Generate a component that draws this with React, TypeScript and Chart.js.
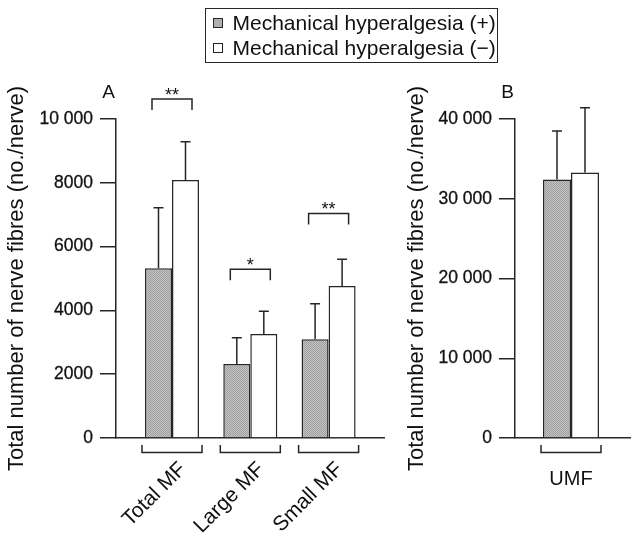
import React, { useEffect, useRef } from 'react';
import { Chart, registerables } from 'chart.js';

Chart.register(...registerables);

const FONT = '"Liberation Sans", Arial, Helvetica, sans-serif';
const INK = '#111111';
const LINE = '#262626';

const seriesNames = ['Mechanical hyperalgesia (+)', 'Mechanical hyperalgesia (\u2212)'];
const yTitle = 'Total number of nerve fibres (no./nerve)';

// Panel A
const categoriesA = ['Total MF', 'Large MF', 'Small MF'];
const plusMeansA = [5320, 2320, 3095];
const plusSdA = [1900, 825, 1115];
const minusMeansA = [8085, 3260, 4765];
const minusSdA = [1200, 710, 835];
const sigLevelsA = [10630, 5290, 7040];
const sigMarksA = ['**', '*', '**'];
const yTicksA = [0, 2000, 4000, 6000, 8000, 10000];

// Panel B
const categoriesB = ['UMF'];
const plusMeansB = [32400];
const plusSdB = [6100];
const minusMeansB = [33300];
const minusSdB = [8100];
const yTicksB = [0, 10000, 20000, 30000, 40000];

function fmtTick(v: number): string {
  const s = String(Math.round(v));
  return v >= 10000 ? s.replace(/\B(?=(\d{3})+(?!\d))/g, ' ') : s;
}

function makeStipple(): CanvasPattern | string {
  const c = document.createElement('canvas');
  c.width = 2;
  c.height = 2;
  const g = c.getContext('2d');
  if (!g) return '#b0b0b0';
  g.fillStyle = '#c2c2c2';
  g.fillRect(0, 0, 2, 2);
  g.fillStyle = '#a0a0a0';
  g.fillRect(0, 0, 1, 1);
  g.fillRect(1, 1, 1, 1);
  return g.createPattern(c, 'repeat') || '#b0b0b0';
}

interface PanelSpec {
  letter: string;
  cats: string[];
  plus: number[];
  plusSd: number[];
  minus: number[];
  minusSd: number[];
  yTicks: number[];
  xMin: number;
  xMax: number;
  catPct: number;
  padRight: number;
  axisWidth: number;
  rotateLabels: boolean;
  sigLevels?: number[];
  sigMarks?: string[];
}

function buildChart(canvas: HTMLCanvasElement, p: PanelSpec): Chart {
  const stipple = makeStipple();
  const decor = {
    id: 'decor',
    afterDatasetsDraw(chart: any) {
      const { ctx, chartArea, scales } = chart;
      const xs = scales.x;
      const ys = scales.y;
      ctx.save();
      ctx.strokeStyle = LINE;
      ctx.lineWidth = 1.5;
      ctx.lineCap = 'butt';
      // error bars (upper only)
      const sds = [p.plusSd, p.minusSd];
      const means = [p.plus, p.minus];
      for (let d = 0; d < 2; d++) {
        const meta = chart.getDatasetMeta(d);
        meta.data.forEach((el: any, j: number) => {
          const yTop = ys.getPixelForValue(means[d][j] + sds[d][j]);
          ctx.beginPath();
          ctx.moveTo(el.x, el.y);
          ctx.lineTo(el.x, yTop);
          ctx.moveTo(el.x - 5, yTop);
          ctx.lineTo(el.x + 5, yTop);
          ctx.stroke();
        });
      }
      // significance brackets
      if (p.sigLevels && p.sigMarks) {
        ctx.fillStyle = INK;
        ctx.font = `18px ${FONT}`;
        ctx.textAlign = 'center';
        ctx.textBaseline = 'alphabetic';
        p.sigLevels.forEach((lv, j) => {
          const cx = xs.getPixelForValue(j);
          const y = ys.getPixelForValue(lv);
          ctx.beginPath();
          ctx.moveTo(cx - 20, y + 11);
          ctx.lineTo(cx - 20, y);
          ctx.lineTo(cx + 20, y);
          ctx.lineTo(cx + 20, y + 11);
          ctx.stroke();
          ctx.fillText(p.sigMarks![j], cx, y + 2);
        });
      }
      // category brackets and labels
      const by = chartArea.bottom + 14.5;
      p.cats.forEach((c, j) => {
        const cx = xs.getPixelForValue(j);
        ctx.beginPath();
        ctx.moveTo(cx - 30, by - 7.5);
        ctx.lineTo(cx - 30, by);
        ctx.lineTo(cx + 30, by);
        ctx.lineTo(cx + 30, by - 7.5);
        ctx.stroke();
        ctx.fillStyle = INK;
        if (p.rotateLabels) {
          ctx.font = `21px ${FONT}`;
          ctx.save();
          ctx.translate(cx + 11, chartArea.bottom + 28);
          ctx.rotate(-Math.PI / 4);
          ctx.textAlign = 'right';
          ctx.textBaseline = 'middle';
          ctx.fillText(c, 0, 0);
          ctx.restore();
        } else {
          ctx.font = `20px ${FONT}`;
          ctx.textAlign = 'center';
          ctx.textBaseline = 'middle';
          ctx.fillText(c, cx, chartArea.bottom + 41);
        }
      });
      // panel letter
      ctx.fillStyle = INK;
      ctx.font = `19px ${FONT}`;
      ctx.textAlign = 'center';
      ctx.textBaseline = 'middle';
      ctx.fillText(p.letter, chartArea.left - 7.5, chartArea.top - 26);
      ctx.restore();
    },
  };

  return new Chart(canvas, {
    type: 'bar',
    data: {
      datasets: [
        {
          label: seriesNames[0],
          data: p.plus.map((v, i) => ({ x: i, y: v })),
          backgroundColor: stipple as any,
          borderColor: LINE,
          borderWidth: 1.5,
          categoryPercentage: p.catPct,
          barPercentage: 1,
        },
        {
          label: seriesNames[1],
          data: p.minus.map((v, i) => ({ x: i, y: v })),
          backgroundColor: '#ffffff',
          borderColor: LINE,
          borderWidth: 1.5,
          categoryPercentage: p.catPct,
          barPercentage: 1,
        },
      ] as any,
    },
    options: {
      responsive: false,
      animation: false,
      devicePixelRatio: 1,
      layout: { padding: { top: 119, bottom: 97, left: 0, right: p.padRight } },
      plugins: { legend: { display: false }, tooltip: { enabled: false } },
      scales: {
        x: {
          type: 'linear',
          min: p.xMin,
          max: p.xMax,
          offset: false,
          grid: { display: false },
          ticks: { display: false },
          border: { display: true, color: LINE, width: 1.5 },
          afterBuildTicks: (s: any) => {
            s.ticks = p.cats.map((_, i) => ({ value: i }));
          },
          afterFit: (s: any) => {
            s.height = 0;
          },
        },
        y: {
          type: 'linear',
          min: 0,
          max: p.yTicks[p.yTicks.length - 1],
          border: { display: true, color: LINE, width: 1.5 },
          grid: {
            display: true,
            drawOnChartArea: false,
            drawTicks: true,
            tickLength: 16,
            color: LINE,
            lineWidth: 1.5,
          },
          ticks: {
            color: INK,
            font: { family: FONT, size: 17.5 },
            padding: 7,
            textStrokeColor: INK,
            textStrokeWidth: 0.3,
            callback: (v: any) => fmtTick(Number(v)),
          },
          afterBuildTicks: (s: any) => {
            s.ticks = p.yTicks.map((v) => ({ value: v }));
          },
          afterFit: (s: any) => {
            s.width = p.axisWidth;
          },
          title: {
            display: true,
            text: yTitle,
            color: INK,
            font: { family: FONT, size: 22 },
            padding: { top: 4, bottom: 4 },
          },
        },
      } as any,
    },
    plugins: [decor],
  });
}

export default function App() {
  const refA = useRef<HTMLCanvasElement>(null);
  const refB = useRef<HTMLCanvasElement>(null);

  useEffect(() => {
    if (!refA.current || !refB.current) return;
    const a = buildChart(refA.current, {
      letter: 'A',
      cats: categoriesA,
      plus: plusMeansA,
      plusSd: plusSdA,
      minus: minusMeansA,
      minusSd: minusSdA,
      yTicks: yTicksA,
      xMin: -0.7152,
      xMax: 2.7075,
      catPct: 0.69,
      padRight: 16,
      axisWidth: 116,
      rotateLabels: true,
      sigLevels: sigLevelsA,
      sigMarks: sigMarksA,
    });
    const b = buildChart(refB.current, {
      letter: 'B',
      cats: categoriesB,
      plus: plusMeansB,
      plusSd: plusSdB,
      minus: minusMeansB,
      minusSd: minusSdB,
      yTicks: yTicksB,
      xMin: -0.487,
      xMax: 0.513,
      catPct: 0.487,
      padRight: 1,
      axisWidth: 115,
      rotateLabels: false,
    });
    return () => {
      a.destroy();
      b.destroy();
    };
  }, []);

  return (
    <div
      style={{
        position: 'absolute',
        left: 0,
        top: 0,
        width: 631,
        height: 535,
        background: '#ffffff',
        overflow: 'hidden',
      }}
    >
      <canvas
        ref={refA}
        width={400}
        height={535}
        style={{ position: 'absolute', left: 0, top: 0, width: 400, height: 535 }}
      />
      <canvas
        ref={refB}
        width={231}
        height={535}
        style={{ position: 'absolute', left: 400, top: 0, width: 231, height: 535 }}
      />
      <div
        style={{
          position: 'absolute',
          left: 205,
          top: 8,
          width: 293,
          height: 55,
          border: `1.5px solid ${LINE}`,
          boxSizing: 'border-box',
          fontFamily: FONT,
          fontSize: 21,
          color: INK,
        }}
      >
        {seriesNames.map((n, i) => (
          <div
            key={n}
            style={{
              position: 'absolute',
              left: 0,
              top: 1.75 + i * 24.5,
              height: 24.5,
              display: 'flex',
              alignItems: 'center',
              whiteSpace: 'nowrap',
            }}
          >
            <span
              style={{
                display: 'inline-block',
                width: 10,
                height: 10,
                border: `1px solid ${LINE}`,
                boxSizing: 'border-box',
                background: i === 0 ? '#b0b0b0' : '#ffffff',
                marginLeft: 6.5,
                marginRight: 10,
              }}
            />
            <span>{n}</span>
          </div>
        ))}
      </div>
    </div>
  );
}
